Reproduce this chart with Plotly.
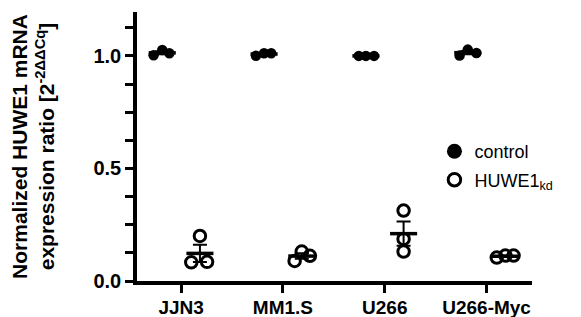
import numpy as np
import plotly.graph_objects as go

# ---- data ----
categories = ["JJN3", "MM1.S", "U266", "U266-Myc"]
control_vals = [
    [1.003, 1.026, 1.012],
    [1.001, 1.012, 1.012],
    [1.000, 1.000, 1.000],
    [1.002, 1.028, 1.013],
]
kd_vals = [
    [0.083, 0.200, 0.085],
    [0.089, 0.131, 0.112],
    [0.313, 0.187, 0.131],
    [0.104, 0.113, 0.113],
]
y_ticks = [0.0, 0.5, 1.0]

# ---- layout / style constants ----
GROUP_OFF = 0.185
CTRL_JIT = [[-0.085, 0.0, 0.07], [-0.08, 0.0, 0.07], [-0.07, 0.0, 0.08], [-0.08, 0.0, 0.085]]
KD_JIT = [[-0.085, 0.0, 0.07], [-0.07, 0.0, 0.08], [0.0, 0.0, 0.0], [-0.085, 0.0, 0.08]]
MEAN_HALF = 0.133
FONT = "Liberation Sans, Arial, Helvetica, sans-serif"

fig = go.Figure()

def add_group(vals, jit, off, marker):
    xs, ys = [], []
    for i, v in enumerate(vals):
        for j, val in enumerate(v):
            xs.append(i + off + jit[i][j])
            ys.append(val)
    for i, v in enumerate(vals):
        m = float(np.mean(v))
        sem = float(np.std(v, ddof=1) / np.sqrt(len(v)))
        c = i + off
        fig.add_trace(go.Scatter(x=[c - MEAN_HALF, c + MEAN_HALF], y=[m, m], mode="lines",
                                 line=dict(color="black", width=3.5), showlegend=False,
                                 hoverinfo="skip"))
        fig.add_trace(go.Scatter(x=[c], y=[m], mode="markers", marker=dict(size=1, color="rgba(0,0,0,0)"),
                                 error_y=dict(type="data", array=[sem], visible=True,
                                              color="black", thickness=2, width=7),
                                 showlegend=False, hoverinfo="skip"))
    fig.add_trace(go.Scatter(x=xs, y=ys, mode="markers", marker=marker, showlegend=False))

add_group(control_vals, CTRL_JIT, -GROUP_OFF, dict(symbol="circle", size=10.5, color="black"))
add_group(kd_vals, KD_JIT, GROUP_OFF,
          dict(symbol="circle-open", size=11.5, color="black", line=dict(width=3, color="black")))

# legend entries
fig.add_trace(go.Scatter(x=[None], y=[None], mode="markers", name="control", legendgroup="a",
                         marker=dict(symbol="circle", size=15, color="black")))
fig.add_trace(go.Scatter(x=[None], y=[None], mode="markers", name="HUWE1<sub>kd</sub>", legendgroup="b",
                         marker=dict(symbol="circle-open", size=12.5, color="black",
                                     line=dict(width=3, color="black"))))

fig.update_layout(
    width=581, height=317,
    margin=dict(l=122, r=57, t=4, b=44),
    plot_bgcolor="white", paper_bgcolor="white",
    font=dict(family=FONT, color="black"),
    legend=dict(x=0.753, y=0.55, xanchor="left", yanchor="top",
                font=dict(size=18, family=FONT), bgcolor="rgba(0,0,0,0)",
                tracegroupgap=2),
    showlegend=True,
)
fig.update_xaxes(
    range=[-0.433, 3.446], tickmode="array", tickvals=list(range(len(categories))),
    ticktext=categories, showgrid=False, zeroline=False,
    showline=True, linecolor="black", linewidth=3.5,
    ticks="outside", ticklen=8, tickwidth=3, tickcolor="black",
    tickfont=dict(size=19, family=FONT, weight="bold"), ticklabelstandoff=-2,
)
fig.update_yaxes(
    range=[0, 1.195], tickmode="array", tickvals=y_ticks, tickformat=".1f",
    showgrid=False, zeroline=False,
    showline=True, linecolor="black", linewidth=3.5,
    ticks="outside", ticklen=8, tickwidth=3, tickcolor="black",
    minor=dict(dtick=0.125, tick0=0, ticks="outside", ticklen=8, tickwidth=3, tickcolor="black"),
    tickfont=dict(size=20, family=FONT, weight="bold"),
    title=dict(text="Normalized HUWE1 mRNA<br>expression ratio [2<sup>-2ΔΔCq</sup>]",
               font=dict(size=21, family=FONT, weight="bold"), standoff=39),
)

fig.write_html("out.html")
